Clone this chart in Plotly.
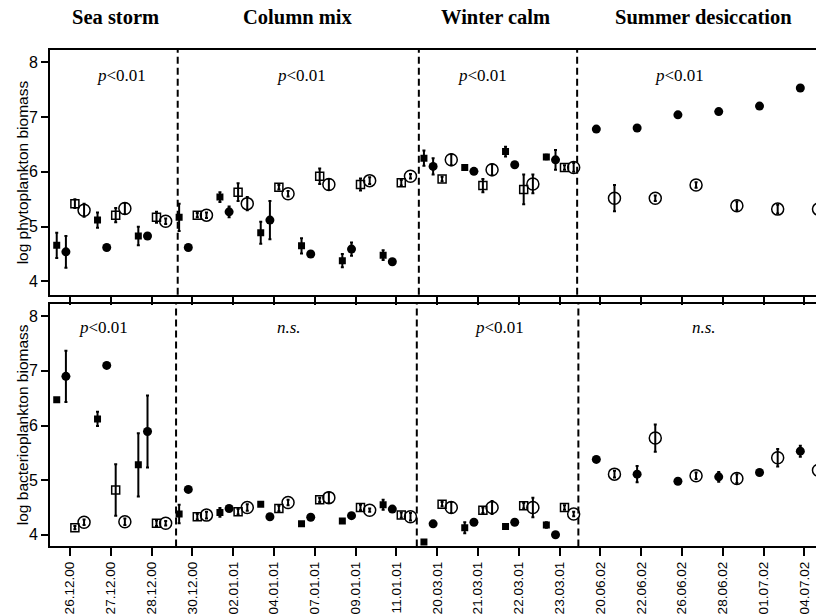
import plotly.graph_objects as go
from plotly.subplots import make_subplots

dates = ["26.12.00", "27.12.00", "28.12.00", "30.12.00", "02.01.01", "04.01.01",
         "07.01.01", "09.01.01", "11.01.01", "20.03.01", "21.03.01", "22.03.01",
         "23.03.01", "20.06.02", "22.06.02", "26.06.02", "28.06.02", "01.07.02", "04.07.02"]

phases = ["Sea storm", "Column mix", "Winter calm", "Summer desiccation"]
phase_centers = [1.12, 5.59, 10.44, 15.52]
top_bounds = [2.64, 8.55, 12.43]
bot_bounds = [2.60, 8.50, 12.46]
top_stats = ["<i>p</i>&lt;0.01", "<i>p</i>&lt;0.01", "<i>p</i>&lt;0.01", "<i>p</i>&lt;0.01"]
top_stat_x = [1.27, 5.68, 10.10, 14.95]
bot_stats = ["<i>p</i>&lt;0.01", "<i>n.s.</i>", "<i>p</i>&lt;0.01", "<i>n.s.</i>"]
bot_stat_x = [0.82, 5.37, 10.53, 15.53]

# phytoplankton (top)
phy_fs = [4.66, 5.12, 4.83, 5.17, 5.54, 4.89, 4.65, 4.38, 4.48, 6.25, 6.08, 6.37, 6.27]
phy_fs_err = [0.23, 0.14, 0.17, 0.25, 0.09, 0.20, 0.14, 0.12, 0.09, 0.14, 0.04, 0.09, 0.04]
phy_fc = [4.54, 4.62, 4.83, 4.62, 5.27, 5.12, 4.50, 4.59, 4.36, 6.10, 6.01, 6.13, 6.22,
          6.78, 6.80, 7.04, 7.10, 7.20, 7.53]
phy_fc_err = [0.29, 0, 0, 0, 0.10, 0.35, 0, 0.12, 0, 0.15, 0, 0, 0.18, 0, 0, 0, 0, 0, 0]
phy_os = [5.42, 5.21, 5.17, 5.21, 5.63, 5.72, 5.92, 5.77, 5.80, 5.87, 5.75, 5.68, 6.08]
phy_os_err = [0.08, 0.13, 0.10, 0.04, 0.16, 0.04, 0.14, 0.11, 0.05, 0.04, 0.12, 0.27, 0.04]
phy_oc = [5.30, 5.33, 5.10, 5.21, 5.42, 5.60, 5.77, 5.84, 5.92, 6.22, 6.04, 5.78, 6.08,
          5.52, 5.52, 5.76, 5.38, 5.32, 5.32]
phy_oc_err = [0.12, 0.10, 0.05, 0.05, 0.12, 0.05, 0.10, 0.06, 0.04, 0.10, 0.10, 0.17, 0.08,
              0.24, 0.05, 0.05, 0.08, 0.08, 0.08]

# bacterioplankton (bottom)
bac_fs = [6.47, 6.12, 5.28, 4.38, 4.41, 4.56, 4.20, 4.25, 4.55, 3.87, 4.13, 4.15, 4.18]
bac_fs_err = [0, 0.13, 0.58, 0.17, 0.08, 0, 0, 0, 0.09, 0, 0.10, 0, 0.05]
bac_fc = [6.90, 7.10, 5.89, 4.83, 4.48, 4.33, 4.32, 4.35, 4.47, 4.20, 4.23, 4.23, 4.00,
          5.38, 5.11, 4.98, 5.06, 5.14, 5.53]
bac_fc_err = [0.47, 0, 0.66, 0, 0, 0, 0, 0, 0, 0, 0, 0, 0, 0, 0.15, 0, 0.09, 0, 0.10]
bac_os = [4.13, 4.82, 4.21, 4.33, 4.42, 4.48, 4.64, 4.50, 4.36, 4.56, 4.45, 4.53, 4.50]
bac_os_err = [0.03, 0.47, 0.05, 0.05, 0.05, 0.05, 0.04, 0.05, 0.05, 0.04, 0.05, 0.05, 0.04]
bac_oc = [4.23, 4.24, 4.21, 4.36, 4.50, 4.59, 4.68, 4.45, 4.33, 4.50, 4.50, 4.50, 4.38,
          5.11, 5.77, 5.08, 5.03, 5.41, 5.18]
bac_oc_err = [0.05, 0.06, 0.04, 0.06, 0.06, 0.05, 0.10, 0.03, 0.07, 0.10, 0.12, 0.18, 0.04,
              0.06, 0.25, 0.06, 0.08, 0.16, 0.05]

W, H = 816, 614
SANS = "Liberation Sans Narrow, Arial Narrow, Liberation Sans, sans-serif"
SERIF = "Liberation Serif, Times New Roman, serif"

fig = make_subplots(rows=2, cols=1)

styles = [  # offset, symbol, size, line width
    (-0.325, "square", 7, 0),
    (-0.10, "circle", 9, 0),
    (0.12, "square-open", 8, 1.5),
    (0.345, "circle-open", 12, 1.5),
]

def add_panel(row, series):
    for (vals, errs), (off, sym, sz, lw) in zip(series, styles):
        xs = [i + off for i in range(len(vals))]
        fig.add_trace(go.Scatter(
            x=xs, y=vals, mode="markers", showlegend=False,
            marker=dict(symbol=sym, size=sz, color="black", line=dict(color="black", width=lw)),
            error_y=dict(type="data", array=errs, visible=True, color="black",
                         thickness=2, width=1.5),
        ), row=row, col=1)

add_panel(1, [(phy_fs, phy_fs_err), (phy_fc, phy_fc_err), (phy_os, phy_os_err), (phy_oc, phy_oc_err)])
add_panel(2, [(bac_fs, bac_fs_err), (bac_fc, bac_fc_err), (bac_os, bac_os_err), (bac_oc, bac_oc_err)])

x0 = 50 / W
xr = [-0.49, (W - 70) / 40.8]
common_x = dict(range=xr, showline=True, linecolor="black", linewidth=2, mirror=True,
                ticks="outside", ticklen=8, tickwidth=2, tickcolor="black",
                tickvals=list(range(len(dates))), ticktext=dates, showgrid=False,
                zeroline=False, domain=[x0, 1])
fig.update_xaxes(**common_x)
fig.update_xaxes(showticklabels=False, row=1, col=1)
fig.update_xaxes(showticklabels=True, tickangle=-90,
                 tickfont=dict(family=SANS, size=13.5, color="black"), row=2, col=1)

common_y = dict(showline=True, linecolor="black", linewidth=2, mirror=False,
                ticks="outside", ticklen=7, tickwidth=2, tickcolor="black",
                tickvals=[4, 5, 6, 7, 8], showgrid=False, zeroline=False,
                tickfont=dict(family=SANS, size=16, color="black"))
fig.update_yaxes(**common_y)
fig.update_yaxes(range=[3.757, 8.23], domain=[1 - 296.7 / H, 1 - 50 / H], row=1, col=1)
fig.update_yaxes(range=[3.787, 8.224], domain=[1 - 550 / H, 1 - 306 / H], row=2, col=1)

shapes = []
for b in top_bounds:
    shapes.append(dict(type="line", xref="x", yref="y domain", x0=b, x1=b, y0=0, y1=1,
                       line=dict(color="black", width=2, dash="7px,4px")))
for b in bot_bounds:
    shapes.append(dict(type="line", xref="x2", yref="y2 domain", x0=b, x1=b, y0=0, y1=1,
                       line=dict(color="black", width=2, dash="7px,4px")))

ann = []
for name, cx in zip(phases, phase_centers):
    ann.append(dict(text=name, xref="x", yref="paper", x=cx, y=1 - 17 / H,
                    xanchor="center", yanchor="middle", showarrow=False,
                    font=dict(family=SERIF, size=20.5, color="black", weight="bold")))
for t, sx in zip(top_stats, top_stat_x):
    ann.append(dict(text=t, xref="x", yref="y", x=sx, y=7.75, showarrow=False,
                    xanchor="center", yanchor="middle",
                    font=dict(family=SERIF, size=17, color="black")))
for t, sx in zip(bot_stats, bot_stat_x):
    ann.append(dict(text=t, xref="x2", yref="y2", x=sx, y=7.79, showarrow=False,
                    xanchor="center", yanchor="middle",
                    font=dict(family=SERIF, size=17, color="black")))
ann.append(dict(text="log phytoplankton biomass", xref="paper", yref="paper",
                x=22 / W, y=1 - 173.5 / H, textangle=-90, showarrow=False,
                xanchor="center", yanchor="middle",
                font=dict(family=SANS, size=15.5, color="black")))
ann.append(dict(text="log bacterioplankton biomass", xref="paper", yref="paper",
                x=22 / W, y=1 - 428 / H, textangle=-90, showarrow=False,
                xanchor="center", yanchor="middle",
                font=dict(family=SANS, size=15.5, color="black")))

fig.update_layout(width=W, height=H, margin=dict(l=0, r=0, t=0, b=0),
                  plot_bgcolor="white", paper_bgcolor="white",
                  shapes=shapes, annotations=ann)

fig.write_html("out.html")
